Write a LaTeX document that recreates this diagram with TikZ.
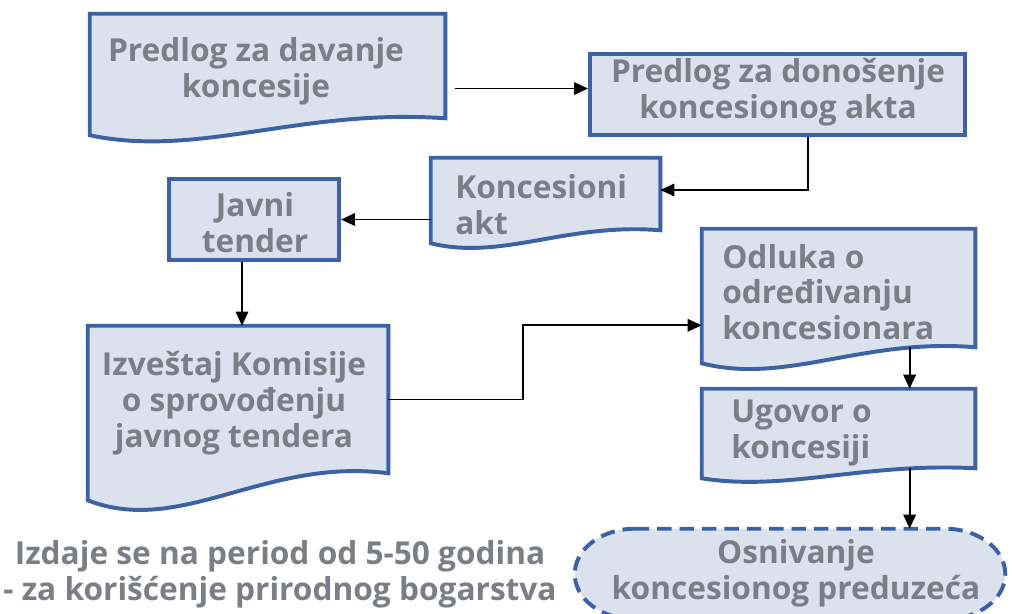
\documentclass[tikz,border=0pt]{standalone}
\usepackage{fontspec}
\setmainfont{Open Sans}
\usetikzlibrary{arrows.meta,calc,fit}
\definecolor{Plate}{HTML}{DCE1EE}
\definecolor{Frame}{HTML}{3A62A4}
\definecolor{Label}{HTML}{7B7E85}
\tikzset{
  framebox/.style={draw=Frame, fill=Plate, line width=2.8pt, inner sep=0pt},
  shapebox/.style={inner sep=0pt},
  boxtext/.style={font=\fontsize{22.5}{25.5}\selectfont\bfseries, text=Label, inner sep=0pt},
  flowarrow/.style={-{Triangle[length=0.35cm,width=0.31cm]}, line width=1.4pt, draw=black},
  dashframe/.style={draw=Frame, fill=Plate, line width=2.8pt, dash pattern=on 0.36cm off 0.2cm},
}
% document shape with a wavy bottom edge
\newcommand{\docwave}[2]{%
  \draw[framebox] (#1.north west) -- (#1.north east) -- (#1.south east)
    .. controls ($(#1.south west)!0.59!(#1.south east)+(0,-0.6*#2)$) and ($(#1.south west)!0.31!(#1.south east)+(0,2.35*#2)$) .. ($(#1.south west)+(0,#2)$) -- cycle;}

\begin{document}
\begin{tikzpicture}[x=0.025cm,y=-0.025cm]
\path[use as bounding box] (0,0) rectangle (1012,613);
\clip (0,0) rectangle (1012,613);

% shapes
\node[shapebox, fit={(90,14) (445,118)}] (predlog) {};
\docwave{predlog}{17}
\node[framebox, fit={(590,54) (965,135)}] (donosenje) {};
\node[shapebox, fit={(431,158) (660,230)}] (akt) {};
\docwave{akt}{13}
\node[framebox, fit={(169,179) (339,260)}] (tender) {};
\node[shapebox, fit={(88,326) (388,473)}] (izvestaj) {};
\docwave{izvestaj}{27}
\node[shapebox, fit={(702,229) (975,347)}] (odluka) {};
\docwave{odluka}{16}
\node[shapebox, fit={(702,389) (975,468)}] (ugovor) {};
\docwave{ugovor}{10}
\node[shapebox, fit={(575,529) (1005,619)}] (osnivanje) {};
\draw[dashframe] ($(osnivanje.north west)+(60,0)$) -- ($(osnivanje.north east)+(-60,0)$)
  .. controls +(33,0) and +(0,-25) .. (osnivanje.east)
  .. controls +(0,25) and +(33,0) .. ($(osnivanje.south east)+(-60,0)$)
  -- ($(osnivanje.south west)+(60,0)$)
  .. controls +(-33,0) and +(0,25) .. (osnivanje.west)
  .. controls +(0,-25) and +(-33,0) .. cycle;

% texts
\node[boxtext, align=center] (predlogtxt) at (256,71) {Predlog za davanje\\koncesije};
\node[boxtext, align=center] (donosenjetxt) at (778,92) {Predlog za donošenje\\koncesionog akta};
\node[boxtext, align=left, anchor=west] (akttxt) at (455,205) {Koncesioni\\akt};
\node[boxtext, align=center] (tendertxt) at (255,223) {Javni\\tender};
\node[boxtext, align=center] (izvestajtxt) at (234,403) {Izveštaj Komisije\\o sprovođenju\\javnog tendera};
\node[boxtext, align=left, anchor=west] (odlukatxt) at (722,292) {Odluka o\\određivanju\\koncesionara};
\node[boxtext, align=left, anchor=west] (ugovortxt) at (731,433) {Ugovor o\\koncesiji};
\node[boxtext, align=center] (osnivanjetxt) at (796,573) {Osnivanje\\koncesionog preduzeća};
\node[boxtext, align=center] (napomena) at (280,574) {Izdaje se na period od 5-50 godina\\- za korišćenje prirodnog bogarstva};

% connectors
\draw[flowarrow] ($(predlog.east |- donosenje.west)+(10,-6)$) -- ($(donosenje.west)+(0,-6)$);
\draw[flowarrow] ($(donosenje.south west)!0.58!(donosenje.south east)$) |- ($(akt.east)+(0,-4)$);
\draw[flowarrow] (akt.west |- tender.east) -- (tender.east);
\draw[flowarrow] ($(tender.south)+(-12,0)$) -- ($(tender.south |- izvestaj.north)+(-12,0)$);
\draw[flowarrow] (izvestaj.east) -- ++(135,0) |- ($(odluka.south west)+(0,-22)$);
\coordinate (odlukaout) at ($(odluka.south west)!0.76!(odluka.south east)$);
\draw[flowarrow] (odlukaout) -- (odlukaout |- ugovor.north);
\coordinate (ugovorout) at ($(ugovor.south west)!0.76!(ugovor.south east)$);
\draw[flowarrow] (ugovorout) -- (ugovorout |- osnivanje.north);
\end{tikzpicture}
\end{document}
